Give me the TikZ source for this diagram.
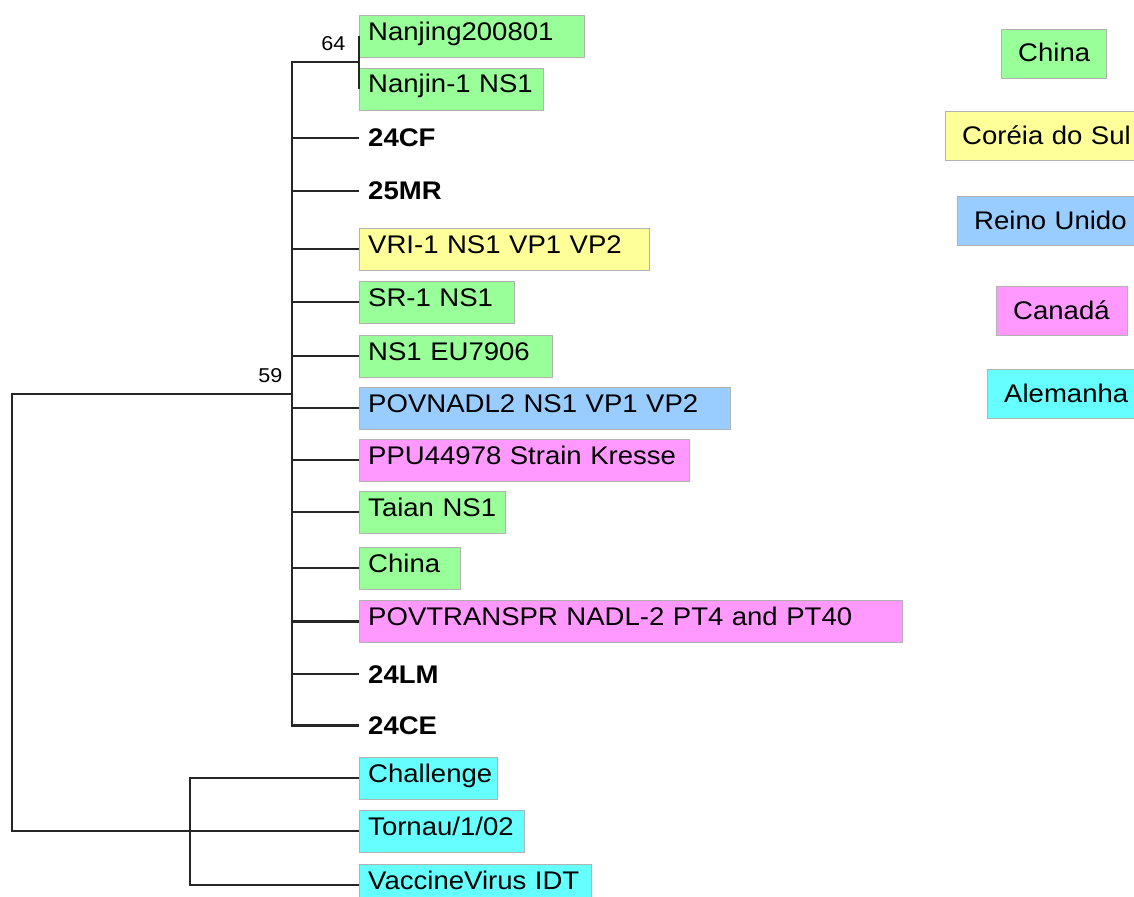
\documentclass[tikz,border=0pt]{standalone}
\usepackage{fontspec}
\setmainfont{Liberation Sans}[FakeStretch=1.08]
\definecolor{cn}{HTML}{99FF99}
\definecolor{kr}{HTML}{FFFF99}
\definecolor{uk}{HTML}{99CCFF}
\definecolor{ca}{HTML}{FF99FF}
\definecolor{de}{HTML}{66FFFF}

\begin{document}
\begin{tikzpicture}[x=1pt,y=-1pt]
        \tikzstyle{leaf} = [draw=black!30,anchor=west,inner xsep=9pt,inner ysep=0pt,text height=25pt,text depth=17pt,align=left,font=\fontsize{25.5}{30}\selectfont]
        \tikzstyle{sample} = [leaf,draw=none,text height=30pt,text depth=12pt,font=\fontsize{25.5}{30}\selectfont\bfseries]
        \tikzstyle{country} = [leaf,inner xsep=17pt,text height=33pt,text depth=16pt]
        \tikzstyle{branch} = [line width=2.4pt,draw=black!85]
        \tikzstyle{support} = [font=\fontsize{20}{24}\selectfont]

        \useasboundingbox (0,0) rectangle (1134,896);

        % strains
        \node[leaf,fill=cn,text width=207pt] (nanjing) at (359,36.5){Nanjing200801};
        \node[leaf,fill=cn,text width=166pt] (nanjin) at (359,89){Nanjin-1 NS1};
        \node[sample] (cf24) at (359,138){24CF};
        \node[sample] (mr25) at (359,191){25MR};
        \node[leaf,fill=kr,text width=272pt] (vri) at (359,249){VRI-1 NS1 VP1 VP2};
        \node[leaf,fill=cn,text width=137pt] (sr) at (359,302){SR-1 NS1};
        \node[leaf,fill=cn,text width=175pt] (eu) at (359,356){NS1 EU7906};
        \node[leaf,fill=uk,text width=353pt] (povnadl) at (359,408){POVNADL2 NS1 VP1 VP2};
        \node[leaf,fill=ca,text width=312pt] (ppu) at (359,460){PPU44978 Strain Kresse};
        \node[leaf,fill=cn,text width=128pt] (taian) at (359,512){Taian NS1};
        \node[leaf,fill=cn,text width=83pt] (china) at (359,568){China};
        \node[leaf,fill=ca,text width=525pt] (povtrans) at (359,621.5){POVTRANSPR NADL-2 PT4 and PT40};
        \node[sample] (lm24) at (359,674){24LM};
        \node[sample] (ce24) at (359,725.5){24CE};
        \node[leaf,fill=de,text width=120pt] (challenge) at (359,778){Challenge};
        \node[leaf,fill=de,text width=147pt] (tornau) at (359,831){Tornau/1/02};
        \node[leaf,fill=de,text width=214pt] (vaccine) at (359,885){VaccineVirus IDT};

        % inner nodes
        \coordinate (n64) at (359,62);
        \coordinate (n59) at (292,394);
        \coordinate (nout) at (190,831);
        \coordinate (root) at (12,612);
        \node[support,anchor=east] (s64) at (349,44){64};
        \node[support,anchor=east] (s59) at (286,376){59};

        \draw[branch] (nanjing.west) -- (nanjin.west);
        \foreach \leaf in {n64,cf24,mr25,vri,sr,eu,povnadl,ppu,taian,china,povtrans,lm24,ce24}
            \draw[branch] (n59) |- (\leaf);
        \foreach \leaf in {challenge,tornau,vaccine}
            \draw[branch] (nout) |- (\leaf);
        \draw[branch] (n59) -| (root) |- (nout);

        % legend
        \node[country,fill=cn,text width=71pt] (lchina) at (1001,53.5){China};
        \node[country,fill=kr,text width=175pt] (lkorea) at (945,136){Coréia do Sul};
        \node[country,fill=uk,text width=165pt] (luk) at (957,220.5){Reino Unido};
        \node[country,fill=ca,text width=97pt] (lcanada) at (996,310.5){Canadá};
        \node[country,fill=de,text width=135pt] (lgermany) at (987,393.5){Alemanha};

    \end{tikzpicture}
\end{document}
